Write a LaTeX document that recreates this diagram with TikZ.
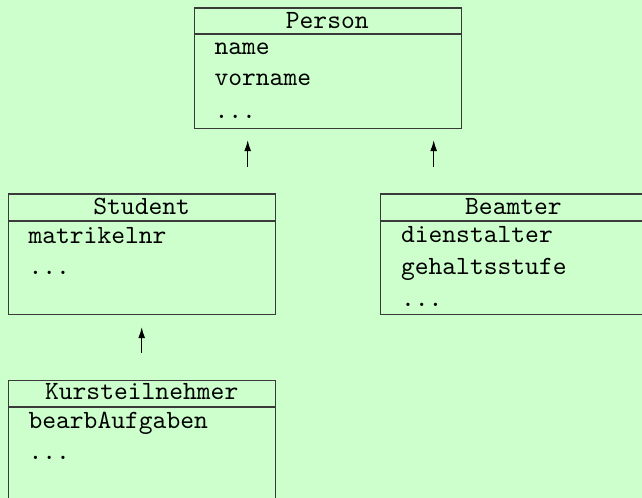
\documentclass[tikz,border=0pt]{standalone}
\usetikzlibrary{arrows.meta}
\definecolor{bggreen}{HTML}{CCFFCC}
\definecolor{framegray}{HTML}{3A3A3A}
\begin{document}
\begin{tikzpicture}[x=0.3804pt,y=-0.3804pt,
  classbox/.style={draw=framegray, line width=0.55pt, fill=bggreen,
    minimum width=101.57pt, minimum height=45.84pt, inner sep=0pt,
    anchor=north west},
  classname/.style={anchor=base, font=\ttfamily, inner sep=0pt},
  attr/.style={anchor=base west, font=\ttfamily, inner sep=0pt},
  sepline/.style={draw=framegray, line width=0.8pt},
  inherit/.style={-{Latex[length=4.2pt,width=2.6pt]}, line width=0.5pt}]
  % canvas
  \fill[bggreen] (0,0) rectangle (642,498);
  \useasboundingbox (0,0) rectangle (642,498);
  \clip (0,0) rectangle (642,498);

  % Person
  \node[classbox] (person) at (194,7.3) {};
  \draw[sepline] ([yshift=-10.2pt]person.north west) -- ([yshift=-10.2pt]person.north east);
  \node[classname] (personname) at (327.3,28.3) {Person};
  \node[attr] (pa1) at (214,54.3) {name};
  \node[attr] (pa2) at (214,86) {vorname};
  \node[attr] (pa3) at (214,118.3) {...};

  % Student
  \node[classbox] (student) at (8,193.3) {};
  \draw[sepline] ([yshift=-10.4pt]student.north west) -- ([yshift=-10.4pt]student.north east);
  \node[classname] (studentname) at (141.7,215) {Student};
  \node[attr] (sa1) at (28,243.3) {matrikelnr};
  \node[attr] (sa2) at (28,275) {...};

  % Beamter
  \node[classbox] (beamter) at (380,193.3) {};
  \draw[sepline] ([yshift=-10.4pt]beamter.north west) -- ([yshift=-10.4pt]beamter.north east);
  \node[classname] (beamtername) at (513.5,215) {Beamter};
  \node[attr] (ba1) at (400.5,242.7) {dienstalter};
  \node[attr] (ba2) at (400.5,274.3) {gehaltsstufe};
  \node[attr] (ba3) at (400.5,307) {...};

  % Kursteilnehmer
  \node[classbox] (kurs) at (8,380) {};
  \draw[sepline] ([yshift=-10.2pt]kurs.north west) -- ([yshift=-10.2pt]kurs.north east);
  \node[classname] (kursname) at (141.7,400) {Kursteilnehmer};
  \node[attr] (ka1) at (28,428.3) {bearbAufgaben};
  \node[attr] (ka2) at (28,459.3) {...};

  % inheritance arrows
  \coordinate (s1) at (247.7,167);
  \coordinate (t1) at (247.7,140);
  \coordinate (s2) at (433.7,167);
  \coordinate (t2) at (433.7,140);
  \coordinate (s3) at (141.7,353);
  \coordinate (t3) at (141.7,327);
  \draw[inherit] (s1) -- (t1);
  \draw[inherit] (s2) -- (t2);
  \draw[inherit] (s3) -- (t3);
\end{tikzpicture}
\end{document}
